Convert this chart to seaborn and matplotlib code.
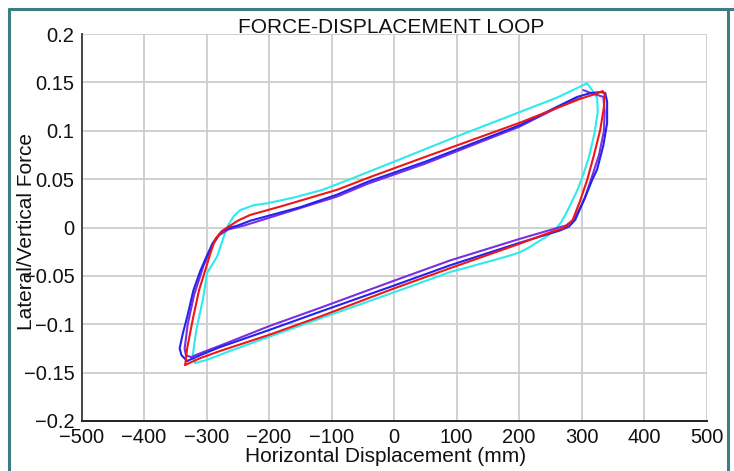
import matplotlib
matplotlib.use("Agg")
import matplotlib.pyplot as plt
from matplotlib.lines import Line2D
import seaborn as sns

# ---------------- data ----------------
x_ticks = [-500, -400, -300, -200, -100, 0, 100, 200, 300, 400, 500]
x_tick_labels = ["\u2212500", "\u2212400", "\u2212300", "\u2212200", "\u2212100", "0",
                 "100", "200", "300", "400", "500"]
y_ticks = [-0.2, -0.15, -0.1, -0.05, 0.0, 0.05, 0.1, 0.15, 0.2]
y_tick_labels = ["\u22120.2", "\u22120.15", "\u22120.1", "\u22120.05", "0",
                 "0.05", "0.1", "0.15", "0.2"]

cyan_x = [-318, -322, -316, -306, -299, -283, -270, -265, -256, -246, -225, -203, -160,
          -114, -66, 0, 100, 200, 260, 309, 318, 325, 326, 321, 312, 302, 293, 284, 275,
          267, 258, 245, 230, 215, 200, 180, 158, 130, 90, 0, -118, -200, -260, -300, -318]
cyan_y = [-0.140, -0.132, -0.105, -0.075, -0.047, -0.030, -0.005, 0.003, 0.012, 0.018,
          0.023, 0.025, 0.031, 0.039, 0.051, 0.068, 0.094, 0.119, 0.134, 0.149, 0.141,
          0.134, 0.120, 0.098, 0.073, 0.053, 0.038, 0.026, 0.014, 0.005, -0.002, -0.009,
          -0.015, -0.021, -0.026, -0.030, -0.034, -0.039, -0.046, -0.067, -0.094, -0.113,
          -0.127, -0.137, -0.140]

purple_x = [303, 315, 325, 335, 337, 336, 328, 318, 305, 288, 275, 261, 200, 90, 0, -118,
            -200, -270, -310, -325, -333, -335, -330, -320, -305, -290, -280, -265, -240,
            -200, -91, -43, 50, 200, 280, 300]
purple_y = [0.142, 0.139, 0.137, 0.135, 0.120, 0.100, 0.075, 0.055, 0.030, 0.008, 0.002,
            -0.0005, -0.012, -0.034, -0.055, -0.083, -0.102, -0.120, -0.130, -0.134,
            -0.132, -0.125, -0.100, -0.070, -0.040, -0.018, -0.008, -0.002, 0.002, 0.010,
            0.032, 0.045, 0.066, 0.104, 0.130, 0.134]

blue_x = [-331, -340, -343, -338, -330, -321, -310, -300, -290, -283, -275, -262, -250,
          -230, -150, -91, -43, 50, 202, 293, 315, 330, 338, 341, 341, 335, 325, 317, 305,
          290, 280, 266, 200, 90, 0, -118, -200, -280, -310, -331]
blue_y = [-0.138, -0.132, -0.125, -0.110, -0.090, -0.065, -0.045, -0.030, -0.016, -0.010,
          -0.004, 0.000, 0.002, 0.007, 0.021, 0.034, 0.047, 0.068, 0.106, 0.135, 0.139,
          0.140, 0.139, 0.130, 0.108, 0.085, 0.060, 0.049, 0.030, 0.008, 0.001, -0.003,
          -0.016, -0.039, -0.060, -0.087, -0.106, -0.124, -0.132, -0.138]

red_x = [-334, -331, -322, -312, -300, -294, -286, -276, -267, -250, -230, -180, -91, -43,
         50, 200, 298, 322, 334, 337, 336, 330, 320, 309, 298, 286, 280, 270, 250, 200, 90,
         0, -118, -200, -280, -310, -334]
red_y = [-0.142, -0.125, -0.095, -0.065, -0.040, -0.027, -0.012, -0.004, 0.000, 0.007,
         0.013, 0.022, 0.039, 0.051, 0.073, 0.108, 0.133, 0.138, 0.141, 0.138, 0.125, 0.101,
         0.075, 0.049, 0.028, 0.008, 0.004, -0.001, -0.005, -0.017, -0.042, -0.063, -0.092,
         -0.111, -0.128, -0.135, -0.142]

title_text = "FORCE-DISPLACEMENT LOOP"
x_label = "Horizontal Displacement (mm)"
y_label = "Lateral/Vertical Force"

# ---------------- style ----------------
sns.set_style("white")
plt.rcParams["font.family"] = ["Liberation Sans", "DejaVu Sans"]

W, H = 734, 471
fig = plt.figure(figsize=(W / 100, H / 100), dpi=100)
fig.patch.set_facecolor("white")
ax = fig.add_axes([81.5 / W, 50 / H, 625 / W, 387 / H])

series = [
    (cyan_x, cyan_y, "#2ee9ee"),
    (purple_x, purple_y, "#7a2fe0"),
    (blue_x, blue_y, "#2323ee"),
    (red_x, red_y, "#f01616"),
]
for xs, ys, col in series:
    sns.lineplot(x=xs, y=ys, sort=False, estimator=None, color=col,
                 linewidth=1.5, ax=ax)

ax.set_xlim(-500, 500)
ax.set_ylim(-0.2, 0.2)
ax.set_xticks(x_ticks)
ax.set_xticklabels(x_tick_labels)
ax.set_yticks(y_ticks)
ax.set_yticklabels(y_tick_labels)

ax.grid(True, color="#cdcdcd", linewidth=1.3)
ax.set_axisbelow(True)
for s in ["top", "right"]:
    ax.spines[s].set_visible(False)
ax.spines["left"].set_color("#444444")
ax.spines["bottom"].set_color("#222222")
ax.spines["left"].set_linewidth(1.4)
ax.spines["bottom"].set_linewidth(1.4)
ax.tick_params(axis="both", direction="in", length=4, width=1.2, color="#333333",
               labelsize=14.5, labelcolor="#111111")
ax.tick_params(axis="x", pad=5)
ax.tick_params(axis="y", pad=5)

ax.set_xlabel(x_label, fontsize=15, color="#111111")
ax.set_ylabel(y_label, fontsize=15, color="#111111")
ax.xaxis.set_label_coords(0.486, -0.066)
ax.yaxis.set_label_coords(-0.072, 0.49)

fig.text(391.5 / W, 1 - 33 / H, title_text, ha="center", va="baseline",
         fontsize=15, color="#111111")

# teal frame
frame_col = "#3e7b84"
lw = 2.2
fig.add_artist(Line2D([8.5 / W, 8.5 / W], [0, 1 - 8.5 / H], transform=fig.transFigure,
                      color=frame_col, linewidth=lw))
fig.add_artist(Line2D([8.5 / W, 1.0], [1 - 8.5 / H, 1 - 8.5 / H], transform=fig.transFigure,
                      color=frame_col, linewidth=lw))
fig.add_artist(Line2D([727.5 / W, 727.5 / W], [0, 1 - 8.5 / H], transform=fig.transFigure,
                      color=frame_col, linewidth=lw))

fig.savefig("out.png", dpi=100, facecolor="white")
